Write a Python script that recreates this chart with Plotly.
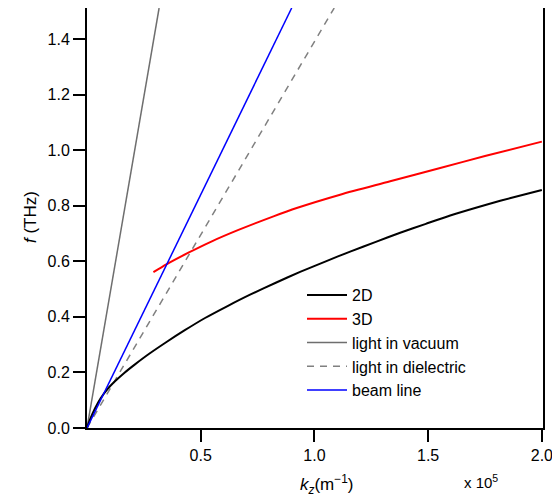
import plotly.graph_objects as go

# ---- data (k_z in units of 1e5 m^-1, f in THz) ----
k_2d = [0.0, 0.013, 0.035, 0.06, 0.09, 0.123, 0.165, 0.211, 0.275, 0.343, 0.43, 0.519, 0.62, 0.717,
        0.83, 0.937, 1.05, 1.157, 1.27, 1.377, 1.49, 1.597, 1.71, 1.817, 1.91, 2.0]
f_2d = [0.0, 0.030, 0.070, 0.107, 0.140, 0.168, 0.199, 0.229, 0.268, 0.306, 0.352, 0.396, 0.440, 0.480,
        0.523, 0.562, 0.600, 0.635, 0.670, 0.703, 0.735, 0.765, 0.793, 0.818, 0.838, 0.857]

k_3d = [0.292, 0.351, 0.446, 0.549, 0.666, 0.820, 0.922, 1.113, 1.333, 1.553, 1.75, 2.0]
f_3d = [0.561, 0.590, 0.631, 0.672, 0.713, 0.762, 0.792, 0.840, 0.888, 0.936, 0.979, 1.031]

k_vac = [0.0, 0.317]
f_vac = [0.0, 1.512]

k_diel = [0.0, 1.087]
f_diel = [0.0, 1.512]

k_beam = [0.0, 0.900]
f_beam = [0.0, 1.512]

x_ticks = [0.5, 1.0, 1.5, 2.0]
x_tick_labels = ["0.5", "1.0", "1.5", "2.0"]
y_ticks = [0.0, 0.2, 0.4, 0.6, 0.8, 1.0, 1.2, 1.4]
y_tick_labels = ["0.0", "0.2", "0.4", "0.6", "0.8", "1.0", "1.2", "1.4"]

FONT = "Liberation Sans, Arial, sans-serif"

# page body has an 8px margin, so the figure is made 8px smaller and placed accordingly
OFF = 8
W, H = 552, 495
L, R, T, B = 79, 17, 0, 75
PW, PH = W - L - R, H - T - B

fig = go.Figure()
fig.add_trace(go.Scatter(x=k_vac, y=f_vac, mode="lines", name="light in vacuum",
                         line=dict(color="#6e6e6e", width=1.5), legendgroup="c", legendrank=3))
fig.add_trace(go.Scatter(x=k_diel, y=f_diel, mode="lines", name="light in dielectric",
                         line=dict(color="#808080", width=1.5, dash="7px,6px"), legendgroup="d", legendrank=4))
fig.add_trace(go.Scatter(x=k_2d, y=f_2d, mode="lines", name="2D",
                         line=dict(color="black", width=2, shape="spline", smoothing=0.6),
                         legendgroup="a", legendrank=1))
fig.add_trace(go.Scatter(x=k_3d, y=f_3d, mode="lines", name="3D",
                         line=dict(color="#ff0000", width=2, shape="spline", smoothing=0.8),
                         legendgroup="b", legendrank=2))
fig.add_trace(go.Scatter(x=k_beam, y=f_beam, mode="lines", name="beam line",
                         line=dict(color="#0000ff", width=1.5), legendgroup="e", legendrank=5))

axis_common = dict(showgrid=False, zeroline=False, showline=True, linecolor="black", linewidth=2,
                   mirror=True, ticks="outside", ticklen=12, tickwidth=2, tickcolor="black",
                   tickfont=dict(family=FONT, size=16, color="black"))

fig.update_xaxes(range=[0, 2.005], tickvals=x_ticks, ticktext=x_tick_labels, **axis_common)
fig.update_yaxes(range=[0, 1.512], tickvals=y_ticks, ticktext=y_tick_labels, **axis_common)


def px_x(x):
    return (x - OFF - L) / PW


def px_y(y):
    return (H + OFF - B - y) / PH


fig.update_layout(
    width=W, height=H,
    margin=dict(l=L, r=R, t=T, b=B, autoexpand=False),
    paper_bgcolor="white", plot_bgcolor="white",
    font=dict(family=FONT, size=16, color="black"),
    showlegend=True,
    legend=dict(x=px_x(302), y=px_y(278), xanchor="left", yanchor="top", bgcolor="rgba(0,0,0,0)",
                borderwidth=0, tracegroupgap=0, itemwidth=40,
                font=dict(family=FONT, size=16, color="black")),
    annotations=[
        dict(text="<i>k</i><sub><i>z</i></sub>(m<sup>−1</sup>)", x=px_x(327), y=px_y(484),
             xref="paper", yref="paper", xanchor="center", yanchor="middle", showarrow=False,
             font=dict(family=FONT, size=17, color="black")),
        dict(text="x 10<sup>5</sup>", x=px_x(481), y=px_y(481), xref="paper", yref="paper",
             xanchor="center", yanchor="middle",
             showarrow=False, font=dict(family=FONT, size=15, color="black")),
        dict(text="<i>f</i> (THz)", x=px_x(30), y=px_y(217), xref="paper", yref="paper", textangle=-90,
             xanchor="center", yanchor="middle",
             showarrow=False, font=dict(family=FONT, size=17, color="black")),
    ],
)

fig.write_html("out.html")
